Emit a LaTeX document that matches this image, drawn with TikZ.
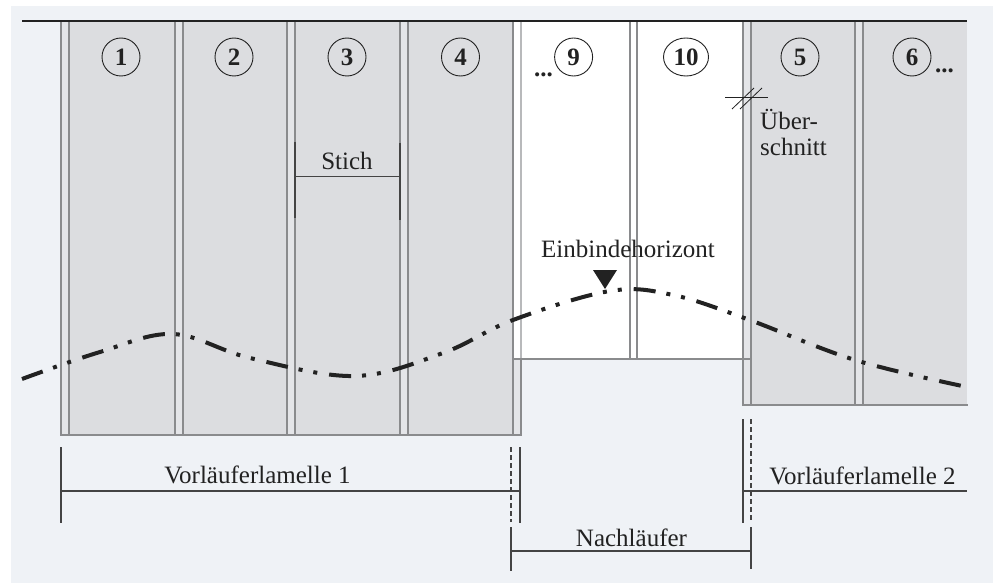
\documentclass[tikz,border=0pt]{standalone}
\usepackage{fontspec}
\setmainfont{Liberation Serif}
\usetikzlibrary{shapes.geometric}
\definecolor{bg}{HTML}{EFF2F6}
\definecolor{panel}{HTML}{DCDDE0}
\definecolor{strip}{HTML}{E4E5E8}
\definecolor{wallc}{HTML}{8A8B8D}
\definecolor{walllight}{HTML}{B8B9BB}
\definecolor{txt}{HTML}{222222}
\definecolor{dimc}{HTML}{444444}
\begin{document}
\begin{tikzpicture}[x=1pt,y=-1pt,
  wall/.style={draw=wallc, line width=1.8pt, line cap=rect},
  numc/.style={circle, draw=txt, line width=0.9pt, minimum size=38pt, inner sep=0pt, text=txt, font=\fontsize{25}{30}\selectfont\bfseries},
  nume/.style={ellipse, draw=txt, line width=0.9pt, minimum width=45pt, minimum height=38pt, inner sep=0pt, text=txt, font=\fontsize{25}{30}\selectfont\bfseries},
  dots/.style={inner sep=0pt, text=txt, font=\fontsize{25}{30}\selectfont\bfseries},
  lbl/.style={inner sep=0pt, text=txt, font=\fontsize{25}{30}\selectfont},
  tick/.style={draw=dimc, line width=1.3pt},
  dimline/.style={draw=dimc, line width=1.3pt},
  dashtick/.style={draw=dimc, line width=1.1pt, dash pattern=on 5pt off 3pt},
  horizon/.style={draw=txt, line width=4pt, dash pattern=on 22pt off 11pt on 4pt off 11pt on 4pt off 12pt},
  thinmark/.style={draw=txt, line width=0.8pt}]
\useasboundingbox (0,0) rectangle (993,583);
\fill[white] (0,0) rectangle (993,583);
\fill[bg] (11,6) rectangle (993,583);
% panels
\fill[panel] (61,21) rectangle (521,435);
\fill[panel] (743,21) rectangle (967,405);
\fill[white] (513,21) rectangle (751,359);
% overlap strips
\foreach \x in {61,175,287,400} \fill[strip] (\x,21) rectangle (\x+8,435);
\fill[strip] (513,359) rectangle (521,435);
\foreach \x in {743,855} \fill[strip] (\x,21) rectangle (\x+8,405);
% walls
\foreach \x in {61,69,175,183,287,295,400,408,513} \draw[wall] (\x,21) -- (\x,435);
\draw[wall] (521,359) -- (521,435);
\draw[wall, draw=walllight] (521,21) -- (521,359);
\foreach \x in {630,637} \draw[wall] (\x,21) -- (\x,359);
\foreach \x in {743,751,855,863} \draw[wall] (\x,21) -- (\x,405);
\draw[wall] (61,435) -- (521,435);
\draw[wall] (513,359) -- (751,359);
\draw[wall] (743,405) -- (967,405);
% top line
\draw[draw=txt, line width=2.2pt] (22,21) -- (967,21);
% numbered circles
\node[numc] (n1) at (121,57) {1};
\node[numc] (n2) at (234,57) {2};
\node[numc] (n3) at (347,57) {3};
\node[numc] (n4) at (460.5,57) {4};
\node[numc] (n9) at (573.6,57) {9};
\node[nume] (n10) at (686,57) {10};
\node[numc] (n5) at (800,57) {5};
\node[numc] (n6) at (912,57) {6};
\node[dots, anchor=base east] (d9) at (553,77) {...};
\node[dots, anchor=base west] (d6) at (935,73) {...};
% Einbindehorizont curve
\draw[horizon] plot[smooth, tension=0.6] coordinates {(22,379) (100,352) (173,334) (250,358) (355,376) (443,353) (513,320) (610,291) (673,295) (747,319) (855,360) (967,387)};
\node[lbl, anchor=base] (einb) at (628,257) {Einbindehorizont};
\fill[txt] (593,270) -- (617,270) -- (605,289) -- cycle;
% Stich
\coordinate (s1t) at (295,142); \coordinate (s1b) at (295,218);
\coordinate (s2t) at (400,143); \coordinate (s2b) at (400,220);
\coordinate (sl) at (295,176.7); \coordinate (sr) at (400,176.7);
\draw[tick] (s1t) -- (s1b);
\draw[tick] (s2t) -- (s2b);
\draw[dimline] (sl) -- (sr);
\node[lbl, anchor=base] (stich) at (347,169) {Stich};
% Ueberschnitt
\coordinate (ua) at (725,97.7); \coordinate (ub) at (768,97.7);
\coordinate (u1a) at (732,109); \coordinate (u1b) at (754,88);
\coordinate (u2a) at (740,109); \coordinate (u2b) at (762,88);
\draw[thinmark] (ua) -- (ub);
\draw[thinmark] (u1a) -- (u1b);
\draw[thinmark] (u2a) -- (u2b);
\node[lbl, anchor=base west] (ueb1) at (760,130) {Über-};
\node[lbl, anchor=base west] (ueb2) at (760,155) {schnitt};
% Vorlaeuferlamelle 1
\coordinate (a1t) at (61,447); \coordinate (a1b) at (61,523);
\coordinate (a2t) at (520,447); \coordinate (a2b) at (520,523);
\coordinate (a3t) at (511,447); \coordinate (a3b) at (511,522);
\coordinate (al) at (61,491); \coordinate (ar) at (520,491);
\draw[tick] (a1t) -- (a1b);
\draw[tick] (a2t) -- (a2b);
\draw[dashtick] (a3t) -- (a3b);
\draw[dimline] (al) -- (ar);
\node[lbl, anchor=base] (vl1) at (257.5,483) {Vorläuferlamelle 1};
% Nachlaeufer
\coordinate (b1t) at (511,527); \coordinate (b1b) at (511,571);
\coordinate (b2t) at (751,527); \coordinate (b2b) at (751,569);
\coordinate (bl) at (511,551); \coordinate (br) at (751,551);
\draw[tick] (b1t) -- (b1b);
\draw[tick] (b2t) -- (b2b);
\draw[dimline] (bl) -- (br);
\node[lbl, anchor=base] (nach) at (631.5,546) {Nachläufer};
% Vorlaeuferlamelle 2
\coordinate (c1t) at (743,419); \coordinate (c1b) at (743,523);
\coordinate (c2t) at (751,419); \coordinate (c2b) at (751,522);
\coordinate (cl) at (743,491); \coordinate (cr) at (967,491);
\draw[tick] (c1t) -- (c1b);
\draw[dashtick] (c2t) -- (c2b);
\draw[dimline] (cl) -- (cr);
\node[lbl, anchor=base] (vl2) at (862.5,484) {Vorläuferlamelle 2};
\end{tikzpicture}
\end{document}
